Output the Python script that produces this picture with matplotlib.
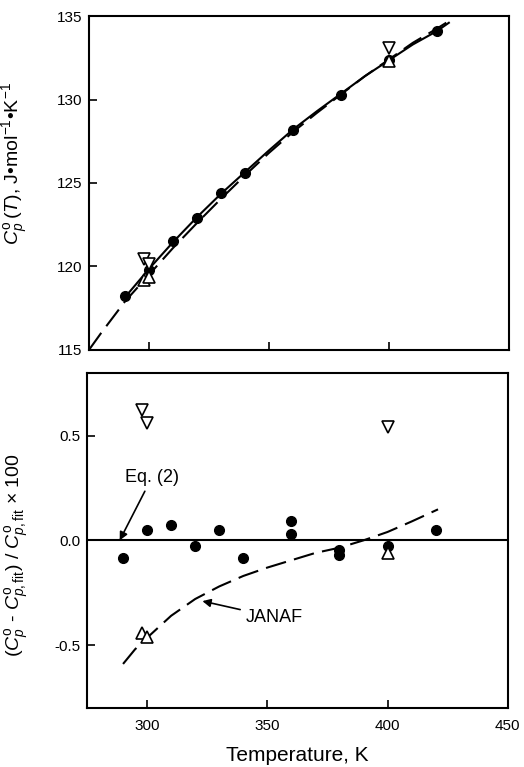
import matplotlib
matplotlib.use('Agg')
import matplotlib.pyplot as plt

plt.rcParams['font.family'] = ['Liberation Sans', 'DejaVu Sans']
plt.rcParams['mathtext.fontset'] = 'custom'
plt.rcParams['mathtext.rm'] = 'Liberation Sans'
plt.rcParams['mathtext.it'] = 'Liberation Sans:italic'
plt.rcParams['mathtext.bf'] = 'Liberation Sans:bold'

# measured points (filled circles), top panel
T_pts = [290, 300, 310, 320, 330, 340, 360, 380, 400, 420]
Cp_pts = [118.2, 119.8, 121.5, 122.9, 124.4, 125.6, 128.2, 130.3, 132.35, 134.1]

# literature points
T_down = [298, 300, 400]
Cp_down = [120.45, 120.15, 133.1]
res_down = [0.62, 0.56, 0.54]
T_up = [298, 300, 400]
Cp_up = [119.2, 119.35, 132.3]
res_up = [-0.44, -0.46, -0.06]

# fit curve, eq. (2)
T_fit = [290, 300, 310, 320, 330, 340, 350, 360, 370, 380, 390, 400, 410, 420, 425]
Cp_fit = [118.15, 119.85, 121.45, 122.95, 124.35, 125.65, 126.95, 128.2, 129.3,
          130.35, 131.4, 132.35, 133.3, 134.1, 134.6]

# JANAF curve
T_jan = [275, 280, 290, 300, 310, 320, 330, 340, 350, 360, 370, 380, 390, 400, 410, 420, 425]
Cp_jan = [115.0, 116.0, 117.9, 119.5, 121.1, 122.6, 124.05, 125.45, 126.8, 128.05,
          129.2, 130.3, 131.4, 132.4, 133.4, 134.25, 134.7]

# deviations, bottom panel
T_res = [290, 300, 310, 320, 330, 340, 360, 360, 380, 380, 400, 420]
res_pts = [-0.085, 0.048, 0.073, -0.027, 0.048, -0.083, 0.092, 0.032, -0.045, -0.068, -0.027, 0.048]
T_jan_res = [290, 295, 300, 310, 320, 330, 340, 350, 360, 370, 380, 390, 400, 410, 421]
res_jan = [-0.59, -0.52, -0.465, -0.36, -0.28, -0.22, -0.17, -0.13, -0.095, -0.06,
           -0.035, 0.0, 0.04, 0.09, 0.148]

fig = plt.figure(figsize=(5.24, 7.67), dpi=100)
ax1 = fig.add_axes([0.170, 0.544, 0.801, 0.435])
ax2 = fig.add_axes([0.166, 0.077, 0.803, 0.437])

dash = (10, 4)

# top panel
ax1.plot(T_fit, Cp_fit, color='k', lw=1.5)
ax1.plot(T_jan, Cp_jan, color='k', lw=1.5, dashes=dash)
ax1.plot(T_pts, Cp_pts, 'o', color='k', ms=7)
ax1.plot(T_down, Cp_down, 'v', mfc='white', mec='k', mew=1.2, ms=9)
ax1.plot(T_up, Cp_up, '^', mfc='white', mec='k', mew=1.2, ms=9)
ax1.set_xlim(275, 450)
ax1.set_ylim(115, 135)
ax1.set_xticks([300, 350, 400])
ax1.set_xticklabels([])
ax1.set_yticks([115, 120, 125, 130, 135])
ax1.set_ylabel(r'$C_p^{\rm o}\,(T)$, J•mol$^{-1}$•K$^{-1}$', fontsize=14, va='center')
ax1.yaxis.set_label_coords(-0.176, 0.557)

# bottom panel
ax2.axhline(0, color='k', lw=1.5)
ax2.plot(T_jan_res, res_jan, color='k', lw=1.5, dashes=dash)
ax2.plot(T_res, res_pts, 'o', color='k', ms=7)
ax2.plot(T_down, res_down, 'v', mfc='white', mec='k', mew=1.2, ms=9)
ax2.plot(T_up, res_up, '^', mfc='white', mec='k', mew=1.2, ms=9)
ax2.set_xlim(275, 450)
ax2.set_ylim(-0.8, 0.8)
ax2.set_xticks([300, 350, 400, 450])
ax2.set_yticks([-0.5, 0.0, 0.5])
ax2.set_yticklabels(['-0.5', '0.0', '0.5'])
ax2.set_xlabel('Temperature, K', fontsize=15, labelpad=9)
ax2.set_ylabel(r'$(C_p^{\rm o}$ - $C_{p,\rm fit}^{\rm o})$ / $C_{p,\rm fit}^{\rm o}$ $\times$ 100',
               fontsize=14, va='center')
ax2.yaxis.set_label_coords(-0.166, 0.457)

ax2.annotate('Eq. (2)', xy=(288.6, 0.0), xytext=(302, 0.30), ha='center', va='center',
             fontsize=13, arrowprops=dict(arrowstyle='-|>', color='k', lw=1.2,
                                          mutation_scale=12, shrinkB=0))
ax2.annotate('JANAF', xy=(323, -0.29), xytext=(341, -0.367), ha='left', va='center',
             fontsize=13, arrowprops=dict(arrowstyle='-|>', color='k', lw=1.2,
                                          mutation_scale=12, shrinkB=0))

for ax in (ax1, ax2):
    for s in ax.spines.values():
        s.set_linewidth(1.5)
    ax.tick_params(direction='in', length=6, width=1.2, labelsize=11)
    ax.tick_params(axis='x', pad=8)
    ax.tick_params(axis='y', pad=5)

fig.savefig('out.png', dpi=100)
